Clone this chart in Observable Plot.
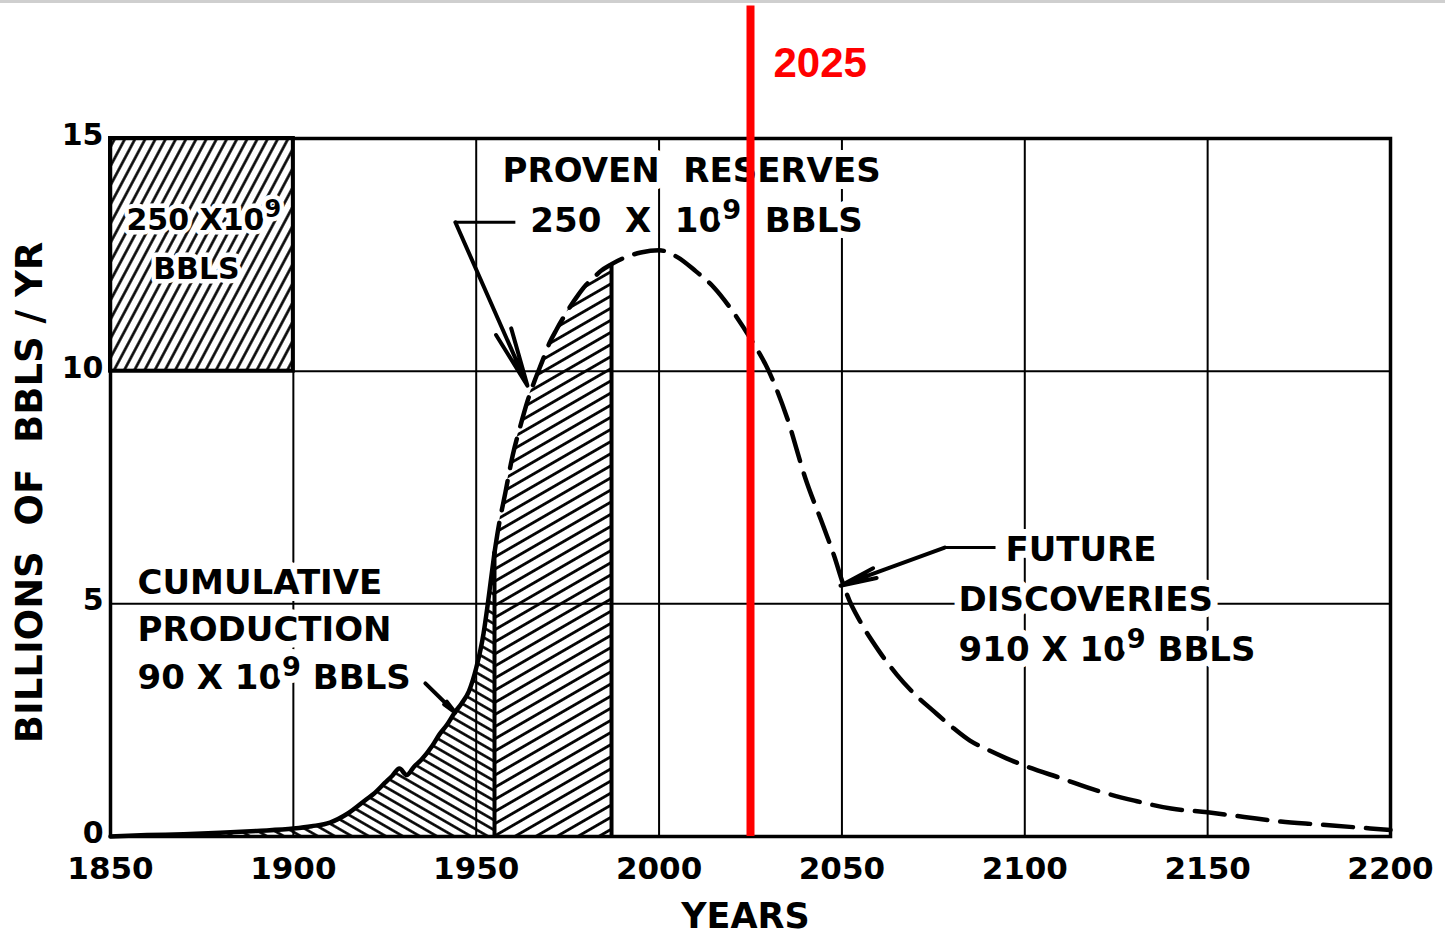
<!DOCTYPE html>
<html><head><meta charset="utf-8">
<script src="https://cdn.jsdelivr.net/npm/d3@7"></script>
<script src="https://cdn.jsdelivr.net/npm/@observablehq/plot@0.6"></script>
<style>
html,body{margin:0;padding:0;background:#fff;}
#topline{position:absolute;left:0;top:0;width:1445px;height:3px;background:#cfcfcf;}
svg text{white-space:pre;}
</style></head>
<body><div id="chart"></div><div id="topline"></div>
<script>
// Annual production, billions of barrels per year (Hubbert, 1956)
const years = [1850,1860,1870,1880,1890,1900,1905,1910,1915,1920,1922,1925,1927,1929,1931,1933,1935,1938,1940,1942,1944,1946,1948,1950,1952,1953,1954,1955,1956,1958,1960,1962,1964,1966,1968,1970,1972,1975,1978,1980,1982,1984,1987,1990,1995,2000,2005,2010,2015,2020,2025,2030,2035,2040,2045,2048,2050,2052,2055,2060,2065,2070,2075,2080,2085,2090,2095,2100,2110,2120,2130,2140,2150,2160,2170,2180,2190,2200];
const production = [0.0,0.03,0.05,0.08,0.12,0.17,0.22,0.3,0.5,0.8,0.92,1.15,1.3,1.46,1.32,1.5,1.65,1.95,2.2,2.4,2.65,2.86,3.12,3.62,4.36,4.9,5.5,6.1,6.6,7.4,8.2,8.8,9.35,9.8,10.2,10.6,10.9,11.3,11.65,11.85,12.0,12.15,12.3,12.42,12.55,12.6,12.45,12.15,11.8,11.3,10.7,10.0,9.0,7.7,6.65,6.0,5.5,5.08,4.62,4.0,3.48,3.05,2.7,2.36,2.06,1.86,1.68,1.52,1.25,0.98,0.77,0.6,0.52,0.42,0.32,0.26,0.2,0.14];

const xTicks = [1850,1900,1950,2000,2050,2100,2150,2200];
const yTicks = [0,5,10,15];
const gridYears = [1900,1950,2000,2050,2100,2150];
const gridValues = [5,10];
const historicEnd = 1955;   // end of cumulative production
const reservesEnd = 1987;   // end of proven reserves
const markerYear = 2025;
const markerTop = 17.85;
const markerLabelValue = 16.6;
const insetBox = [{x1:1850, x2:1900, y1:10, y2:15}];

const labelsStart = [
  {text:"PROVEN  RESERVES", year:1957.2, value:14.29},
  {text:"250  X  10⁹  BBLS", year:1964.8, value:13.22},
  {text:"CUMULATIVE", year:1857.4, value:5.44},
  {text:"PRODUCTION", year:1857.4, value:4.43},
  {text:"90 X 10⁹ BBLS", year:1857.4, value:3.40},
  {text:"FUTURE", year:2094.7, value:6.15},
  {text:"DISCOVERIES", year:2081.9, value:5.09},
  {text:"910 X 10⁹ BBLS", year:2081.9, value:4.0}
];
const labelsInset = [
  {text:"250 X10⁹", year:1875.5, value:13.24},
  {text:"BBLS", year:1873.5, value:12.19}
];
const leaders = [
  {x1:1944.3, y1:13.2, x2:1960.7, y2:13.2},
  {x1:2078.1, y1:6.21, x2:2092.0, y2:6.21}
];
const arrows = [
  {x1:1944.3, y1:13.2, x2:1964.0, y2:9.69},
  {x1:2078.1, y1:6.21, x2:2049.6, y2:5.39},
  {x1:1936.1, y1:3.29, x2:1944.3, y2:2.66}
];

const rows = years.map((y,i)=>({year:y, value:production[i]}));
const historic = rows.filter(d=>d.year<=historicEnd);
const reserves = rows.filter(d=>d.year>=historicEnd && d.year<=reservesEnd);
const future = rows.filter(d=>d.year>=historicEnd);
const boundaries = [historicEnd, reservesEnd].map(yr=>rows.find(d=>d.year===yr));

const FONT = "DejaVu Sans";
const textStyle = {fontSize:34, fontWeight:"bold", fontFamily:FONT, fill:"black",
  stroke:"white", strokeWidth:14, strokeLinejoin:"round"};

const svg = Plot.plot({
  width:1445, height:938,
  marginLeft:110, marginRight:55, marginTop:138, marginBottom:102,
  x:{domain:[1850,2200]},
  y:{domain:[0,15]},
  style:{background:"white", color:"black", fontFamily:FONT},
  marks:[
    Plot.ruleX(gridYears, {stroke:"black", strokeWidth:2}),
    Plot.ruleY(gridValues, {stroke:"black", strokeWidth:2}),
    Plot.rect(insetBox, {x1:"x1", x2:"x2", y1:"y1", y2:"y2", fill:"url(#hatchInset)", stroke:"black", strokeWidth:4}),
    Plot.text(labelsStart, {x:"year", y:"value", text:"text", textAnchor:"start", ...textStyle}),
    Plot.text(labelsInset, {x:"year", y:"value", text:"text", textAnchor:"middle", ...textStyle, fontSize:30, strokeWidth:9}),
    Plot.areaY(historic, {x:"year", y:"value", fill:"url(#hatchProd)", curve:"monotone-x"}),
    Plot.areaY(reserves, {x:"year", y:"value", fill:"url(#hatchRes)", curve:"monotone-x"}),
    Plot.ruleX(boundaries, {x:"year", y1:0, y2:"value", stroke:"black", strokeWidth:4}),
    Plot.line(historic, {x:"year", y:"value", stroke:"black", strokeWidth:4.5, curve:"monotone-x"}),
    Plot.line(future, {x:"year", y:"value", stroke:"black", strokeWidth:4.5, strokeDasharray:"30,13", curve:"monotone-x"}),
    Plot.link(leaders, {x1:"x1", y1:"y1", x2:"x2", y2:"y2", stroke:"black", strokeWidth:3}),
    Plot.arrow(arrows, {x1:"x1", y1:"y1", x2:"x2", y2:"y2", stroke:"black", strokeWidth:4, headLength:28, headAngle:16}),
    Plot.frame({stroke:"black", strokeWidth:3.5}),
    Plot.axisX(xTicks, {tickSize:0, tickPadding:20, tickFormat:d3.format("d"), fontSize:31, fontWeight:"bold", fontFamily:FONT, label:null}),
    Plot.axisY(yTicks, {tickSize:0, tickPadding:7, dy:-3, fontSize:30, fontWeight:"bold", fontFamily:FONT, label:null}),
    Plot.text(["BILLIONS  OF  BBLS / YR"], {frameAnchor:"left", textAnchor:"middle", lineAnchor:"middle", rotate:-90, dx:-80, dy:5, fontSize:37, fontWeight:"bold", fontFamily:FONT}),
    Plot.text(["YEARS"], {frameAnchor:"bottom", textAnchor:"middle", lineAnchor:"middle", dy:80, dx:-5, fontSize:35, fontWeight:"bold", fontFamily:FONT}),
    Plot.ruleX([markerYear], {y1:0, y2:markerTop, stroke:"#ff0000", strokeWidth:8}),
    Plot.text([markerYear], {x:d=>d, y:markerLabelValue, text:d=>String(d), dx:23, textAnchor:"start",
      fill:"#ff0000", fontSize:42, fontWeight:"bold", fontFamily:"Liberation Sans"})
  ]
});

// hatch patterns
const defs = d3.select(svg).insert("defs", ":first-child");
function hatch(id, angle, spacing, width){
  const p = defs.append("pattern").attr("id", id).attr("patternUnits","userSpaceOnUse")
    .attr("width", spacing).attr("height", spacing).attr("patternTransform", `rotate(${angle})`);
  p.append("line").attr("x1",-1).attr("y1",spacing/2).attr("x2",spacing+1).attr("y2",spacing/2)
    .attr("stroke","black").attr("stroke-width",width);
}
hatch("hatchProd", 30, 8.5, 2.6);
hatch("hatchRes", -30, 10.5, 2.8);
hatch("hatchInset", -62, 9, 2.6);

// superscript 9
d3.select(svg).selectAll("text").each(function(){
  const t = this.textContent;
  if (t.includes("⁹")) {
    const [a,b] = t.split("⁹");
    const sel = d3.select(this);
    sel.text(null);
    sel.append("tspan").text(a);
    sel.append("tspan").attr("dy", -13).attr("font-size", "0.8em").text("9");
    sel.append("tspan").attr("dy", 13).text(b);
  }
});

document.getElementById("chart").appendChild(svg);
</script>
</body></html>
